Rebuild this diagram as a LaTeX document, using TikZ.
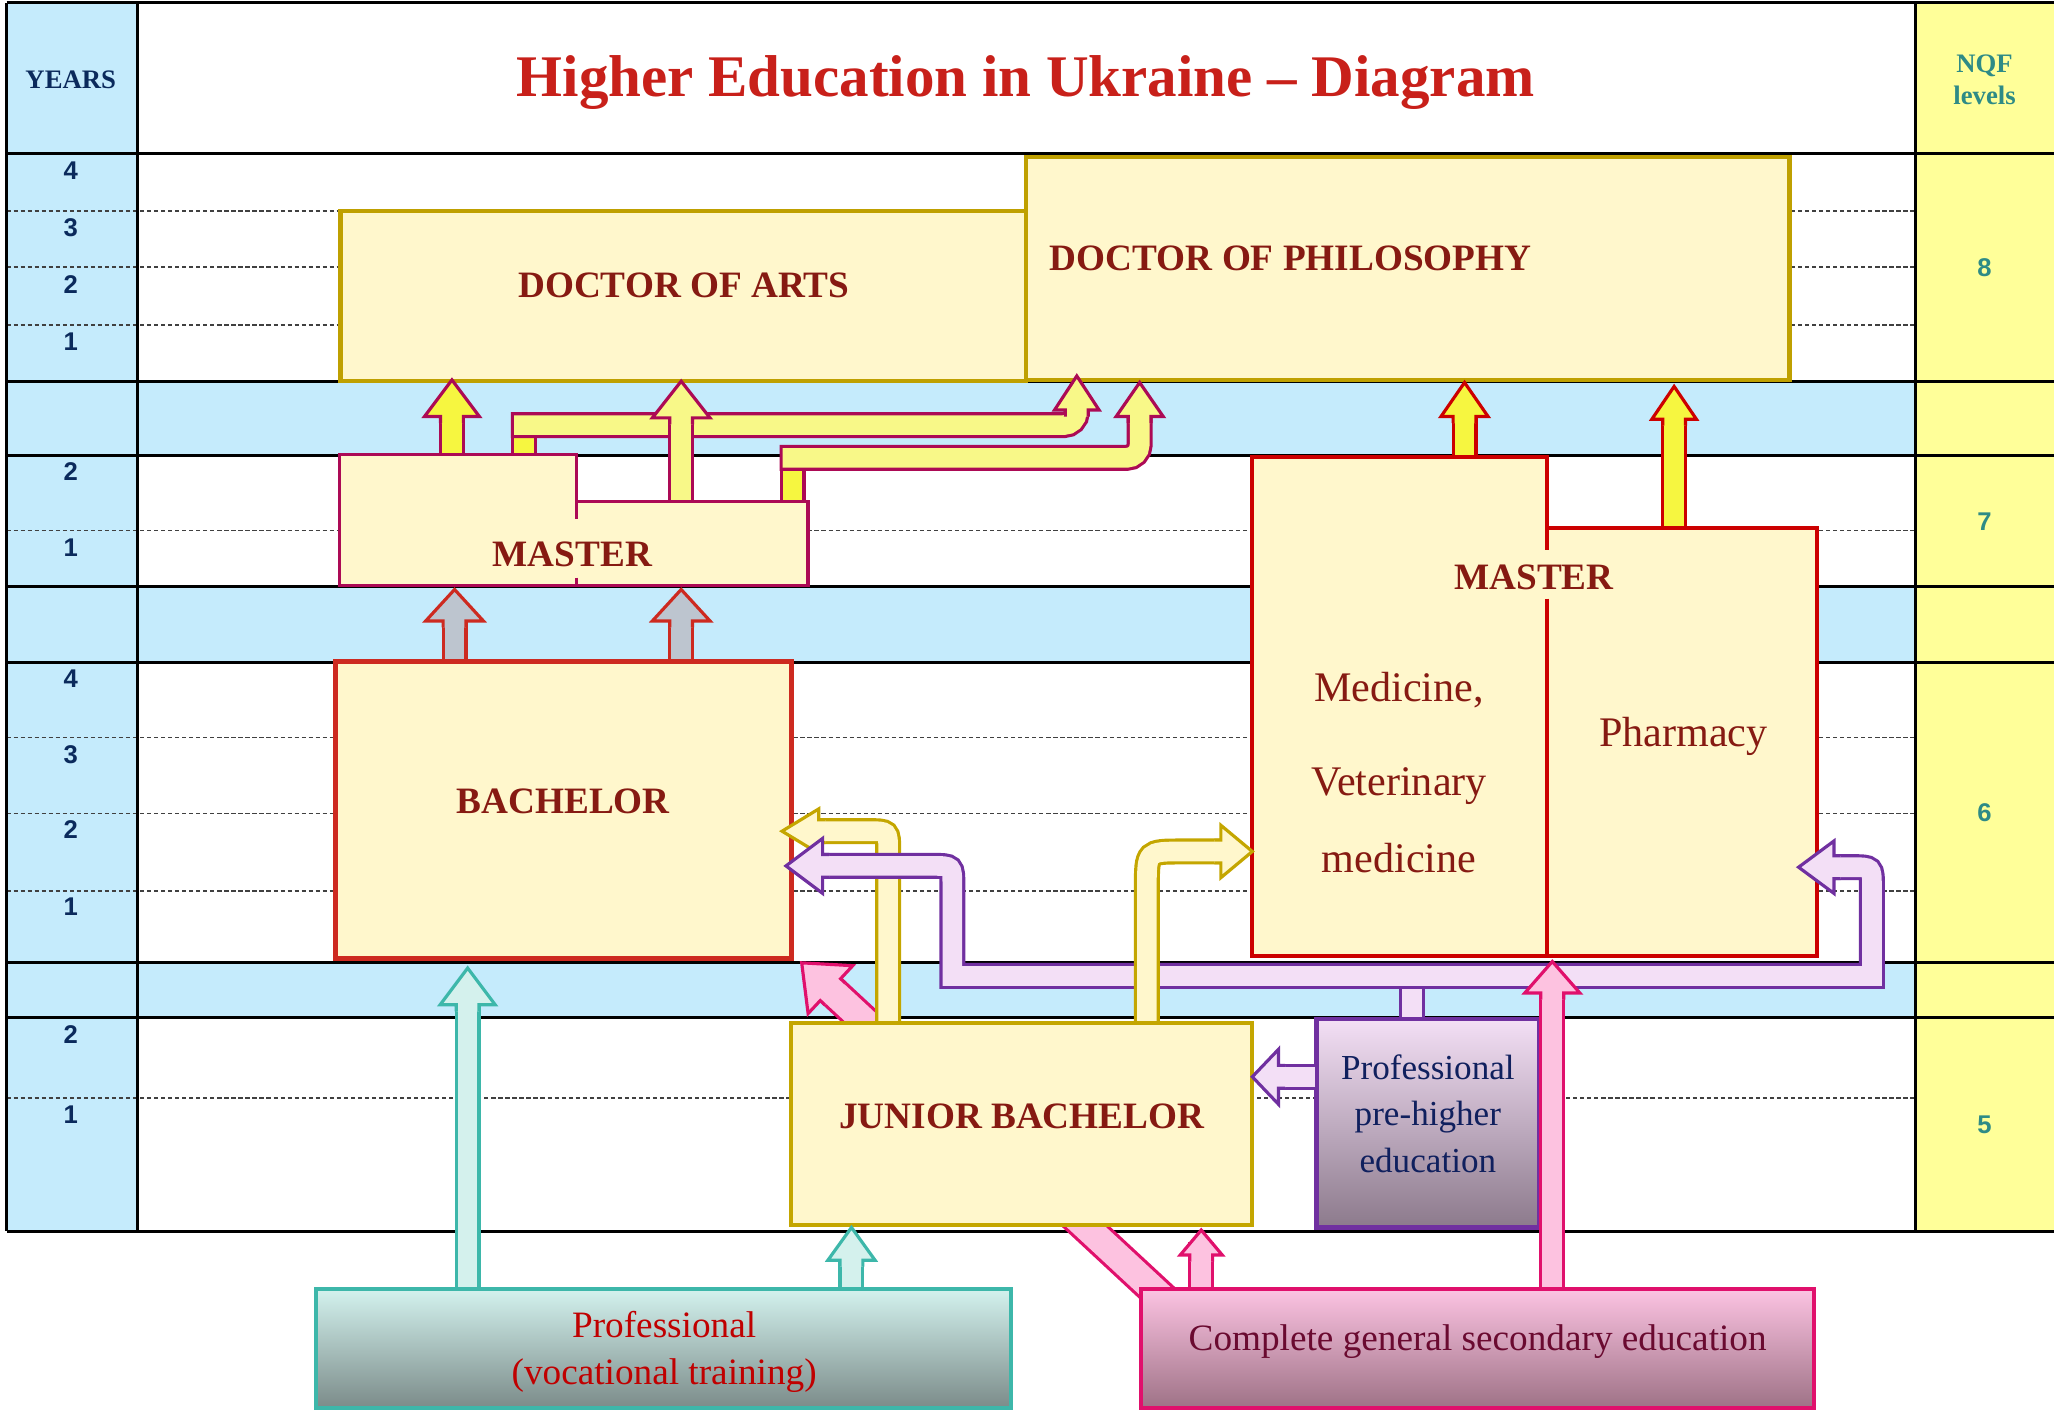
\documentclass[tikz,border=0pt]{standalone}
\usepackage{fontspec}
\setmainfont{Liberation Serif}
\newfontfamily\digitfont{Liberation Sans}
\usetikzlibrary{fit}

\definecolor{bandblue}{HTML}{C5EBFC}
\definecolor{nqfyellow}{HTML}{FFFF99}
\definecolor{boxfill}{HTML}{FFF7CC}
\definecolor{docline}{HTML}{BFA000}
\definecolor{titlered}{HTML}{C8201A}
\definecolor{boxtext}{HTML}{861A12}
\definecolor{yearsblue}{HTML}{0B2A5C}
\definecolor{nqfteal}{HTML}{2E8B86}
\definecolor{masterline}{HTML}{AC0A55}
\definecolor{bachline}{HTML}{CD2A20}
\definecolor{medline}{HTML}{CC0000}
\definecolor{jbline}{HTML}{C4A600}
\definecolor{purpleline}{HTML}{7030A0}
\definecolor{lavender}{HTML}{F3DFF6}
\definecolor{tealline}{HTML}{3DB7AA}
\definecolor{mint}{HTML}{D4F1ED}
\definecolor{pinkline}{HTML}{E0106C}
\definecolor{pinkfill}{HTML}{FDC2E0}
\definecolor{brightyellow}{HTML}{F6F640}
\definecolor{paleyellow}{HTML}{F8F888}
\definecolor{grayfill}{HTML}{BDC5CF}
\definecolor{vocatop}{HTML}{D3F2EE}
\definecolor{vocabot}{HTML}{7B8B89}
\definecolor{comptop}{HTML}{FCC3E2}
\definecolor{compbot}{HTML}{9E7286}
\definecolor{pretop}{HTML}{F3DFF5}
\definecolor{prebot}{HTML}{8C7A8C}
\definecolor{vocatext}{HTML}{C00000}
\definecolor{comptext}{HTML}{6A0A30}
\definecolor{pretext}{HTML}{10205E}

\tikzset{
  gridline/.style={black, line width=0.8pt},
  gridgap/.style={black!75, line width=0.45pt, dash pattern=on 1.2pt off 0.8pt},
  yearnum/.style={font=\digitfont\bfseries\fontsize{7.3}{8}\selectfont, text=yearsblue},
  levelnum/.style={font=\digitfont\bfseries\fontsize{7.3}{8}\selectfont, text=nqfteal},
  boxlabel/.style={font=\bfseries\fontsize{10.6}{12.7}\selectfont, text=boxtext, inner sep=0pt},
  medlabel/.style={font=\fontsize{12}{14}\selectfont, text=boxtext, inner sep=0pt},
  level box/.style={fill=boxfill, inner sep=0pt},
  pipe/.style 2 args={draw=#1, double=#2, line width=0.9pt, double distance=5.6pt, line cap=rect},
}

% block arrow head: line, fill, tip, angle, half width, length, shaft half width
\newcommand{\arrhead}[7]{%
  \fill[#2, shift={#3}, rotate=#4] (0,0) -- (-#6,#5) -- (-#6,#7) -- ({-#6-5},#7)
    -- ({-#6-5},-#7) -- (-#6,-#7) -- (-#6,-#5) -- cycle;
  \draw[#1, line width=0.9pt, line join=miter, shift={#3}, rotate=#4] ({-#6-5},#7)
    -- (-#6,#7) -- (-#6,#5) -- (0,0) -- (-#6,-#5) -- (-#6,-#7) -- ({-#6-5},-#7);}

\begin{document}
\begin{tikzpicture}[x=0.0131cm, y=-0.0131cm, font=\rmfamily]
    \useasboundingbox (0,0) rectangle (1568,1076);

    % table
    \fill[bandblue] (5,2) rectangle (105,940);
    \fill[nqfyellow] (1462,2) rectangle (1568,940);
    \foreach \ya/\yb in {291/348,448/506,735/777}
        \fill[bandblue] (105,\ya) rectangle (1462,\yb);
    \foreach \y in {161,204,248,405,563,621,680,838}
        \draw[gridgap] (5,\y) -- (1462,\y);
    \foreach \y in {2,117,291,348,448,506,735,777,940}
        \draw[gridline] (5,\y) -- (1568,\y);
    \foreach \x in {5,105,1462}
        \draw[gridline] (\x,2) -- (\x,940);

    \node[font=\bfseries\fontsize{7.6}{9}\selectfont, text=yearsblue] (years) at (54,61) {YEARS};
    \node[font=\bfseries\fontsize{16.8}{20}\selectfont, text=titlered] (title) at (783,63) {Higher Education in Ukraine – Diagram};
    \node[font=\bfseries\fontsize{7.6}{8.9}\selectfont, text=nqfteal, align=center] (nqf) at (1515,61) {NQF\\levels};
    \foreach \y/\n in {130/4,174/3,217/2,261/1,360/2,418/1,518/4,576/3,633/2,692/1,790/2,851/1}
        \node[yearnum] (yr\y) at (54,\y) {\n};
    \foreach \y/\n in {204/8,398/7,620/6,859/5}
        \node[levelnum] (lv\n) at (1515,\y) {\n};

    % doctor level
    \node[level box, draw=docline, line width=1.2pt, fit={(260,161) (783,291)}] (arts) {};
    \node[boxlabel] (artst) at (522,218) {DOCTOR OF ARTS};
    \node[level box, draw=docline, line width=1.2pt, fit={(783,120) (1366,290)}] (phd) {};
    \node[boxlabel, anchor=west] (phdt) at (801,197) {DOCTOR OF PHILOSOPHY};

    % master -> doctor
    \draw[pipe={masterline}{brightyellow}, line cap=butt] (400,349) -- (400,330);
    \draw[pipe={masterline}{paleyellow}, rounded corners=3.7pt] (400,324.5) -- (822,324.5) -- (822,314);
    \arrhead{masterline}{paleyellow}{(822,287)}{90}{17}{26}{8.7}
    \draw[pipe={masterline}{brightyellow}, line cap=butt] (605,385) -- (605,356);
    \draw[pipe={masterline}{paleyellow}, rounded corners=3.7pt] (605,349.5) -- (870,349.5) -- (870,319);
    \arrhead{masterline}{paleyellow}{(870,292)}{90}{18}{26}{8.7}
    \draw[pipe={masterline}{brightyellow}] (345,349) -- (345,318);
    \arrhead{masterline}{brightyellow}{(345,290)}{90}{21}{28}{8.7}
    \draw[pipe={masterline}{paleyellow}] (520,385) -- (520,319);
    \arrhead{masterline}{paleyellow}{(520,291)}{90}{22}{28}{8.7}

    \draw[fill=boxfill, draw=masterline, line width=1pt] (259,347) -- (440,347) -- (440,383)
        -- (617,383) -- (617,447) -- (259,447) -- cycle;
    \draw[masterline, line width=1pt] (440,383) -- (440,396) (440,441) -- (440,447);
    \node[boxlabel] (mastl) at (437,423) {MASTER};

    % bachelor -> master
    \draw[pipe={bachline}{grayfill}] (347,507) -- (347,474);
    \arrhead{bachline}{grayfill}{(347,450)}{90}{22}{24}{8.7}
    \draw[pipe={bachline}{grayfill}] (520,507) -- (520,474);
    \arrhead{bachline}{grayfill}{(520,450)}{90}{22}{24}{8.7}

    \node[level box, draw=bachline, line width=1.4pt, fit={(256,505) (604,732)}] (bach) {};
    \node[boxlabel] (bacht) at (430,612) {BACHELOR};

    % medical master -> doctor
    \draw[pipe={medline}{brightyellow}] (1118,351) -- (1118,318);
    \arrhead{medline}{brightyellow}{(1118,292)}{90}{18}{26}{8.7}
    \draw[pipe={medline}{brightyellow}] (1278,405) -- (1278,320);
    \arrhead{medline}{brightyellow}{(1278,295)}{90}{17}{25}{8.7}

    \draw[fill=boxfill, draw=medline, line width=1.1pt] (956,349) -- (1181,349) -- (1181,403)
        -- (1387,403) -- (1387,730) -- (956,730) -- cycle;
    \draw[medline, line width=1.1pt] (1181,403) -- (1181,420) (1181,457) -- (1181,730);
    \node[boxlabel] (mastm) at (1171,441) {MASTER};
    \node[medlabel] (med1) at (1068,527) {Medicine,};
    \node[medlabel] (med2) at (1068,600) {Veterinary};
    \node[medlabel] (med3) at (1068,655) {medicine};
    \node[medlabel] (pharm) at (1285,562) {Pharmacy};

    % secondary -> bachelor (behind junior bachelor)
    \draw[pipe={pinkline}{pinkfill}, double distance=7.6pt] (892,995) -- (634,755.4);
    \arrhead{pinkline}{pinkfill}{(612,735)}{137}{25}{30}{11.4}

    % junior bachelor -> bachelor
    \draw[pipe={jbline}{boxfill}] (678,785) -- (678,649) .. controls (678,634.5) .. (663,634.5) -- (626,634.5);
    \arrhead{jbline}{boxfill}{(597,634.5)}{180}{17}{28}{8.7}

    % pre-higher -> bachelor, pharmacy
    \draw[pipe={purpleline}{lavender}, line cap=butt] (1078,780) -- (1078,750);
    \draw[pipe={purpleline}{lavender}] (629,661) -- (712,661) .. controls (727,661) .. (727,676)
        -- (727,745) -- (1429,745) -- (1429,677) .. controls (1429,662) .. (1414,662) -- (1401,662);
    \arrhead{purpleline}{lavender}{(600,661)}{180}{21}{28}{8.7}
    \arrhead{purpleline}{lavender}{(1373,662)}{180}{20}{27}{8.7}

    % junior bachelor -> medicine
    \draw[pipe={jbline}{boxfill}] (875.5,785) -- (875.5,677) .. controls (875.5,650) .. (902,650) -- (931,650);
    \arrhead{jbline}{boxfill}{(956,650)}{0}{20}{24}{8.7}

    \node[level box, draw=jbline, line width=1.2pt, fit={(604,781) (956,935)}] (jb) {};
    \node[boxlabel] (jbt) at (780,852) {JUNIOR BACHELOR};
    \node[fit={(1005,778) (1175,937)}, inner sep=0pt, draw=purpleline, line width=1.2pt,
        top color=pretop, bottom color=prebot] (prehigh) {};
    \node[font=\fontsize{10}{13.2}\selectfont, text=pretext, align=center] (prehight) at (1090,850)
        {Professional\\pre-higher\\education};

    % pre-higher -> junior bachelor
    \draw[pipe={purpleline}{lavender}, line cap=butt] (1004,822) -- (977,822);
    \arrhead{purpleline}{lavender}{(956,822)}{180}{21}{20}{8.7}

    % entry arrows
    \draw[pipe={pinkline}{pinkfill}] (917,986) -- (917,958);
    \arrhead{pinkline}{pinkfill}{(917,939)}{90}{16}{19}{8.7}
    \draw[pipe={pinkline}{pinkfill}] (1185,986) -- (1185,758);
    \arrhead{pinkline}{pinkfill}{(1185,734)}{90}{21}{24}{8.7}
    \draw[pipe={tealline}{mint}] (357,986) -- (357,767);
    \arrhead{tealline}{mint}{(357,739)}{90}{21}{28}{8.7}
    \draw[pipe={tealline}{mint}] (650,986) -- (650,962);
    \arrhead{tealline}{mint}{(650,937)}{90}{18}{25}{8.7}

    % entry boxes
    \node[fit={(241,984) (772,1075)}, inner sep=0pt, draw=tealline, line width=1.2pt,
        top color=vocatop, bottom color=vocabot] (voc) {};
    \node[font=\fontsize{10.6}{13.4}\selectfont, text=vocatext, align=center] (voct) at (507,1032)
        {Professional\\(vocational training)};
    \node[fit={(871,984) (1385,1075)}, inner sep=0pt, draw=pinkline, line width=1.2pt,
        top color=comptop, bottom color=compbot] (sec) {};
    \node[font=\fontsize{10.6}{13}\selectfont, text=comptext] (sect) at (1128,1024)
        {Complete general secondary education};
\end{tikzpicture}
\end{document}
